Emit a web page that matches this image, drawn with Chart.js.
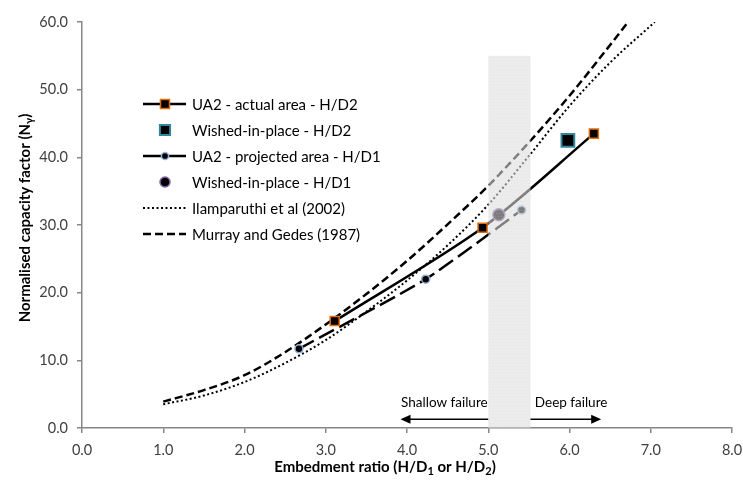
<!DOCTYPE html>
<html><head><meta charset="utf-8">
<script src="https://cdn.jsdelivr.net/npm/chart.js@4.4.1/dist/chart.umd.min.js"></script>
<style>html,body{margin:0;padding:0;background:#fff}#wrap{width:743px;height:486px;position:relative}</style>
</head><body><div id="wrap"><canvas id="c" width="743" height="486"></canvas></div>
<script>
// ---- data ----
const ilamX   = [1.0, 1.5, 2.0, 2.5, 3.0, 3.5, 4.0, 4.5, 5.0, 5.5, 6.0, 6.5, 7.05];
const ilamY   = [3.5, 4.8, 6.8, 9.6, 13.0, 17.2, 21.8, 27.0, 33.0, 40.2, 47.6, 54.0, 60.0];
const murrayX = [1.0, 1.5, 2.0, 2.5, 3.0, 3.5, 4.0, 4.5, 5.0, 5.5, 6.0, 6.5, 6.72];
const murrayY = [3.9, 5.6, 7.8, 11.2, 15.3, 19.8, 24.7, 30.1, 35.8, 42.2, 49.1, 56.6, 60.0];
const actualX = [3.11, 4.93, 6.30];
const actualY = [15.8, 29.6, 43.5];
const wipD2X  = [5.98];
const wipD2Y  = [42.5];
const projX   = [2.67, 4.23, 5.41];
const projY   = [11.7, 22.0, 32.2];
const wipD1X  = [5.13];
const wipD1Y  = [31.5];
const xTicks  = [0, 1, 2, 3, 4, 5, 6, 7, 8];
const yTicks  = [0, 10, 20, 30, 40, 50, 60];
const seriesLabels = ['UA2 - actual area - H/D2', 'Wished-in-place - H/D2', 'UA2 - projected area - H/D1',
                      'Wished-in-place - H/D1', 'Ilamparuthi et al (2002)', 'Murray and Gedes (1987)'];
const shadeRange = [5.0, 5.52];
const shadeTop = 55;
const shallowArrow = [5.0, 3.92];
const deepArrow = [5.52, 6.39];
const arrowLevel = 1.3;
const failureLabels = ['Shallow failure', 'Deep failure'];
const failureLabelX = [4.46, 6.02];
const failureLabelY = 3.7;

const pts = (xs, ys) => xs.map((x, i) => ({x: x, y: ys[i]}));
const FONT = 'Lato, "Open Sans", sans-serif';

function drawRich(ctx, parts, cx, cy, rot, size) {
  ctx.save();
  ctx.translate(cx, cy);
  ctx.rotate(rot);
  const big = 'bold ' + size + 'px ' + FONT, small = 'bold ' + Math.round(size * 0.7) + 'px ' + FONT;
  let total = 0;
  parts.forEach(p => { ctx.font = p[1] ? small : big; total += ctx.measureText(p[0]).width; });
  let x = -total / 2;
  ctx.fillStyle = '#000';
  ctx.textBaseline = 'middle';
  ctx.textAlign = 'left';
  parts.forEach(p => {
    ctx.font = p[1] ? small : big;
    ctx.fillText(p[0], x, p[1] ? 4 : 0);
    x += ctx.measureText(p[0]).width;
  });
  ctx.restore();
}

function marker(ctx, style, x, y, r, fill, stroke, bw) {
  ctx.save();
  ctx.beginPath();
  if (style === 'rect') { const s = r * Math.SQRT1_2; ctx.rect(x - s, y - s, 2 * s, 2 * s); }
  else ctx.arc(x, y, r, 0, Math.PI * 2);
  ctx.fillStyle = fill; ctx.fill();
  ctx.lineWidth = bw; ctx.strokeStyle = stroke; ctx.stroke();
  ctx.restore();
}

function arrow(ctx, x1, x2, y) {
  const dir = Math.sign(x2 - x1);
  ctx.save();
  ctx.strokeStyle = '#000'; ctx.fillStyle = '#000'; ctx.lineWidth = 1.5;
  ctx.beginPath(); ctx.moveTo(x1, y); ctx.lineTo(x2 - dir * 8, y); ctx.stroke();
  ctx.beginPath(); ctx.moveTo(x2, y); ctx.lineTo(x2 - dir * 10, y - 4.5); ctx.lineTo(x2 - dir * 10, y + 4.5); ctx.closePath(); ctx.fill();
  ctx.restore();
}

const overlay = {
  id: 'overlay',
  afterDatasetsDraw(chart) {
    const ctx = chart.ctx, xs = chart.scales.x, ys = chart.scales.y;
    // shaded transition zone
    const l = xs.getPixelForValue(shadeRange[0]), r = xs.getPixelForValue(shadeRange[1]);
    const t = ys.getPixelForValue(shadeTop), b = ys.getPixelForValue(0);
    ctx.save();
    ctx.fillStyle = 'rgba(222,222,222,0.56)';
    ctx.fillRect(l, t, r - l, b - t);
    ctx.fillStyle = 'rgba(205,205,205,0.35)';
    for (let yy = t + 1; yy < b; yy += 3) for (let xx = l + 1 + ((yy - t) % 2); xx < r; xx += 3) ctx.fillRect(xx, yy, 1, 1);
    ctx.restore();
    // arrows and labels
    const ay = ys.getPixelForValue(arrowLevel);
    arrow(ctx, xs.getPixelForValue(shallowArrow[0]), xs.getPixelForValue(shallowArrow[1]), ay);
    arrow(ctx, xs.getPixelForValue(deepArrow[0]), xs.getPixelForValue(deepArrow[1]), ay);
    ctx.save();
    ctx.font = '13.5px ' + FONT; ctx.fillStyle = '#000'; ctx.textAlign = 'center'; ctx.textBaseline = 'middle';
    const ly = ys.getPixelForValue(failureLabelY);
    ctx.fillText(failureLabels[0], xs.getPixelForValue(failureLabelX[0]), ly);
    ctx.fillText(failureLabels[1], xs.getPixelForValue(failureLabelX[1]), ly);
    ctx.restore();
  },
  afterDraw(chart) {
    const ctx = chart.ctx, ds = chart.data.datasets;
    // legend
    const lx0 = 143, lx1 = 186, mx = 165, tx = 192, y0 = 104, dy = 26;
    const legendLine = [[], null, [], null, [2, 2.5], [8, 4]];
    const legendR = [6.4, 7.2, 3.6, 5, 0, 0];
    ctx.save();
    ctx.font = '15px ' + FONT; ctx.textBaseline = 'middle'; ctx.textAlign = 'left';
    ds.forEach((d, i) => {
      const y = y0 + i * dy;
      if (legendLine[i]) {
        ctx.save(); ctx.strokeStyle = '#000'; ctx.lineWidth = d.borderWidth; ctx.setLineDash(legendLine[i]);
        ctx.beginPath(); ctx.moveTo(lx0, y); ctx.lineTo(lx1, y); ctx.stroke(); ctx.restore();
      }
      if (legendR[i] > 0) marker(ctx, d.pointStyle, mx, y, legendR[i], d.pointBackgroundColor, d.pointBorderColor, d.pointBorderWidth);
      ctx.fillStyle = '#000';
      ctx.fillText(d.label, tx, y + 1);
    });
    ctx.restore();
    // axis titles with subscripts
    drawRich(ctx, [['Embedment ratio (H/D', 0], ['1', 1], [' or H/D', 0], ['2', 1], [')', 0]], 385, 467, 0, 15);
    drawRich(ctx, [['Normalised capacity factor (N', 0], ['\u03B3', 1], [')', 0]], 25, 218, -Math.PI / 2, 15);
  }
};

new Chart(document.getElementById('c'), {
  type: 'scatter',
  data: {
    datasets: [
      { label: seriesLabels[0], data: pts(actualX, actualY), showLine: true, borderColor: '#000', borderWidth: 2.5, tension: 0.3,
        pointStyle: 'rect', pointRadius: 6.4, pointBackgroundColor: '#000', pointBorderColor: '#E46C0A', pointBorderWidth: 1.5, order: 1 },
      { label: seriesLabels[1], data: pts(wipD2X, wipD2Y), showLine: false,
        pointStyle: 'rect', pointRadius: 9, pointBackgroundColor: '#000', pointBorderColor: '#31859C', pointBorderWidth: 2, order: 0 },
      { label: seriesLabels[2], data: pts(projX, projY), showLine: true, borderColor: '#000', borderWidth: 2.5, borderDash: [17, 6], tension: 0.2,
        pointStyle: 'circle', pointRadius: 4, pointBackgroundColor: '#000', pointBorderColor: '#95B3D7', pointBorderWidth: 1.5, order: 2 },
      { label: seriesLabels[3], data: pts(wipD1X, wipD1Y), showLine: false,
        pointStyle: 'circle', pointRadius: 6, pointBackgroundColor: '#000', pointBorderColor: '#8064A2', pointBorderWidth: 1.5, order: 0 },
      { label: seriesLabels[4], data: pts(ilamX, ilamY), showLine: true, borderColor: '#000', borderWidth: 2, borderDash: [2, 2.5],
        cubicInterpolationMode: 'monotone', pointRadius: 0, order: 4 },
      { label: seriesLabels[5], data: pts(murrayX, murrayY), showLine: true, borderColor: '#000', borderWidth: 2.5, borderDash: [8, 4],
        cubicInterpolationMode: 'monotone', pointRadius: 0, order: 3 }
    ]
  },
  options: {
    responsive: false, animation: false, devicePixelRatio: 1,
    layout: { padding: { left: 0, right: 11, top: 22, bottom: 0 } },
    plugins: { legend: { display: false }, tooltip: { enabled: false } },
    scales: {
      x: {
        type: 'linear', min: 0, max: 8,
        afterBuildTicks: s => { s.ticks = xTicks.map(v => ({value: v})); },
        afterFit: s => { s.height = 58; s.paddingLeft = 0; s.paddingRight = 0; },
        ticks: { callback: v => Number(v).toFixed(1), color: '#404040', font: { family: FONT, size: 14.5 }, padding: 9, maxRotation: 0 },
        grid: { drawOnChartArea: false, drawTicks: true, tickLength: 5, color: '#868686', lineWidth: 1.5 },
        border: { color: '#868686', width: 1.5 }
      },
      y: {
        type: 'linear', min: 0, max: 60,
        afterBuildTicks: s => { s.ticks = yTicks.map(v => ({value: v})); },
        afterFit: s => { s.width = 82; s.paddingTop = 0; s.paddingBottom = 0; },
        ticks: { callback: v => Number(v).toFixed(1), color: '#404040', font: { family: FONT, size: 14.5 }, padding: 9 },
        grid: { drawOnChartArea: false, drawTicks: true, tickLength: 5, color: '#868686', lineWidth: 1.5 },
        border: { color: '#868686', width: 1.5 }
      }
    }
  },
  plugins: [overlay]
});
</script>
</body></html>
